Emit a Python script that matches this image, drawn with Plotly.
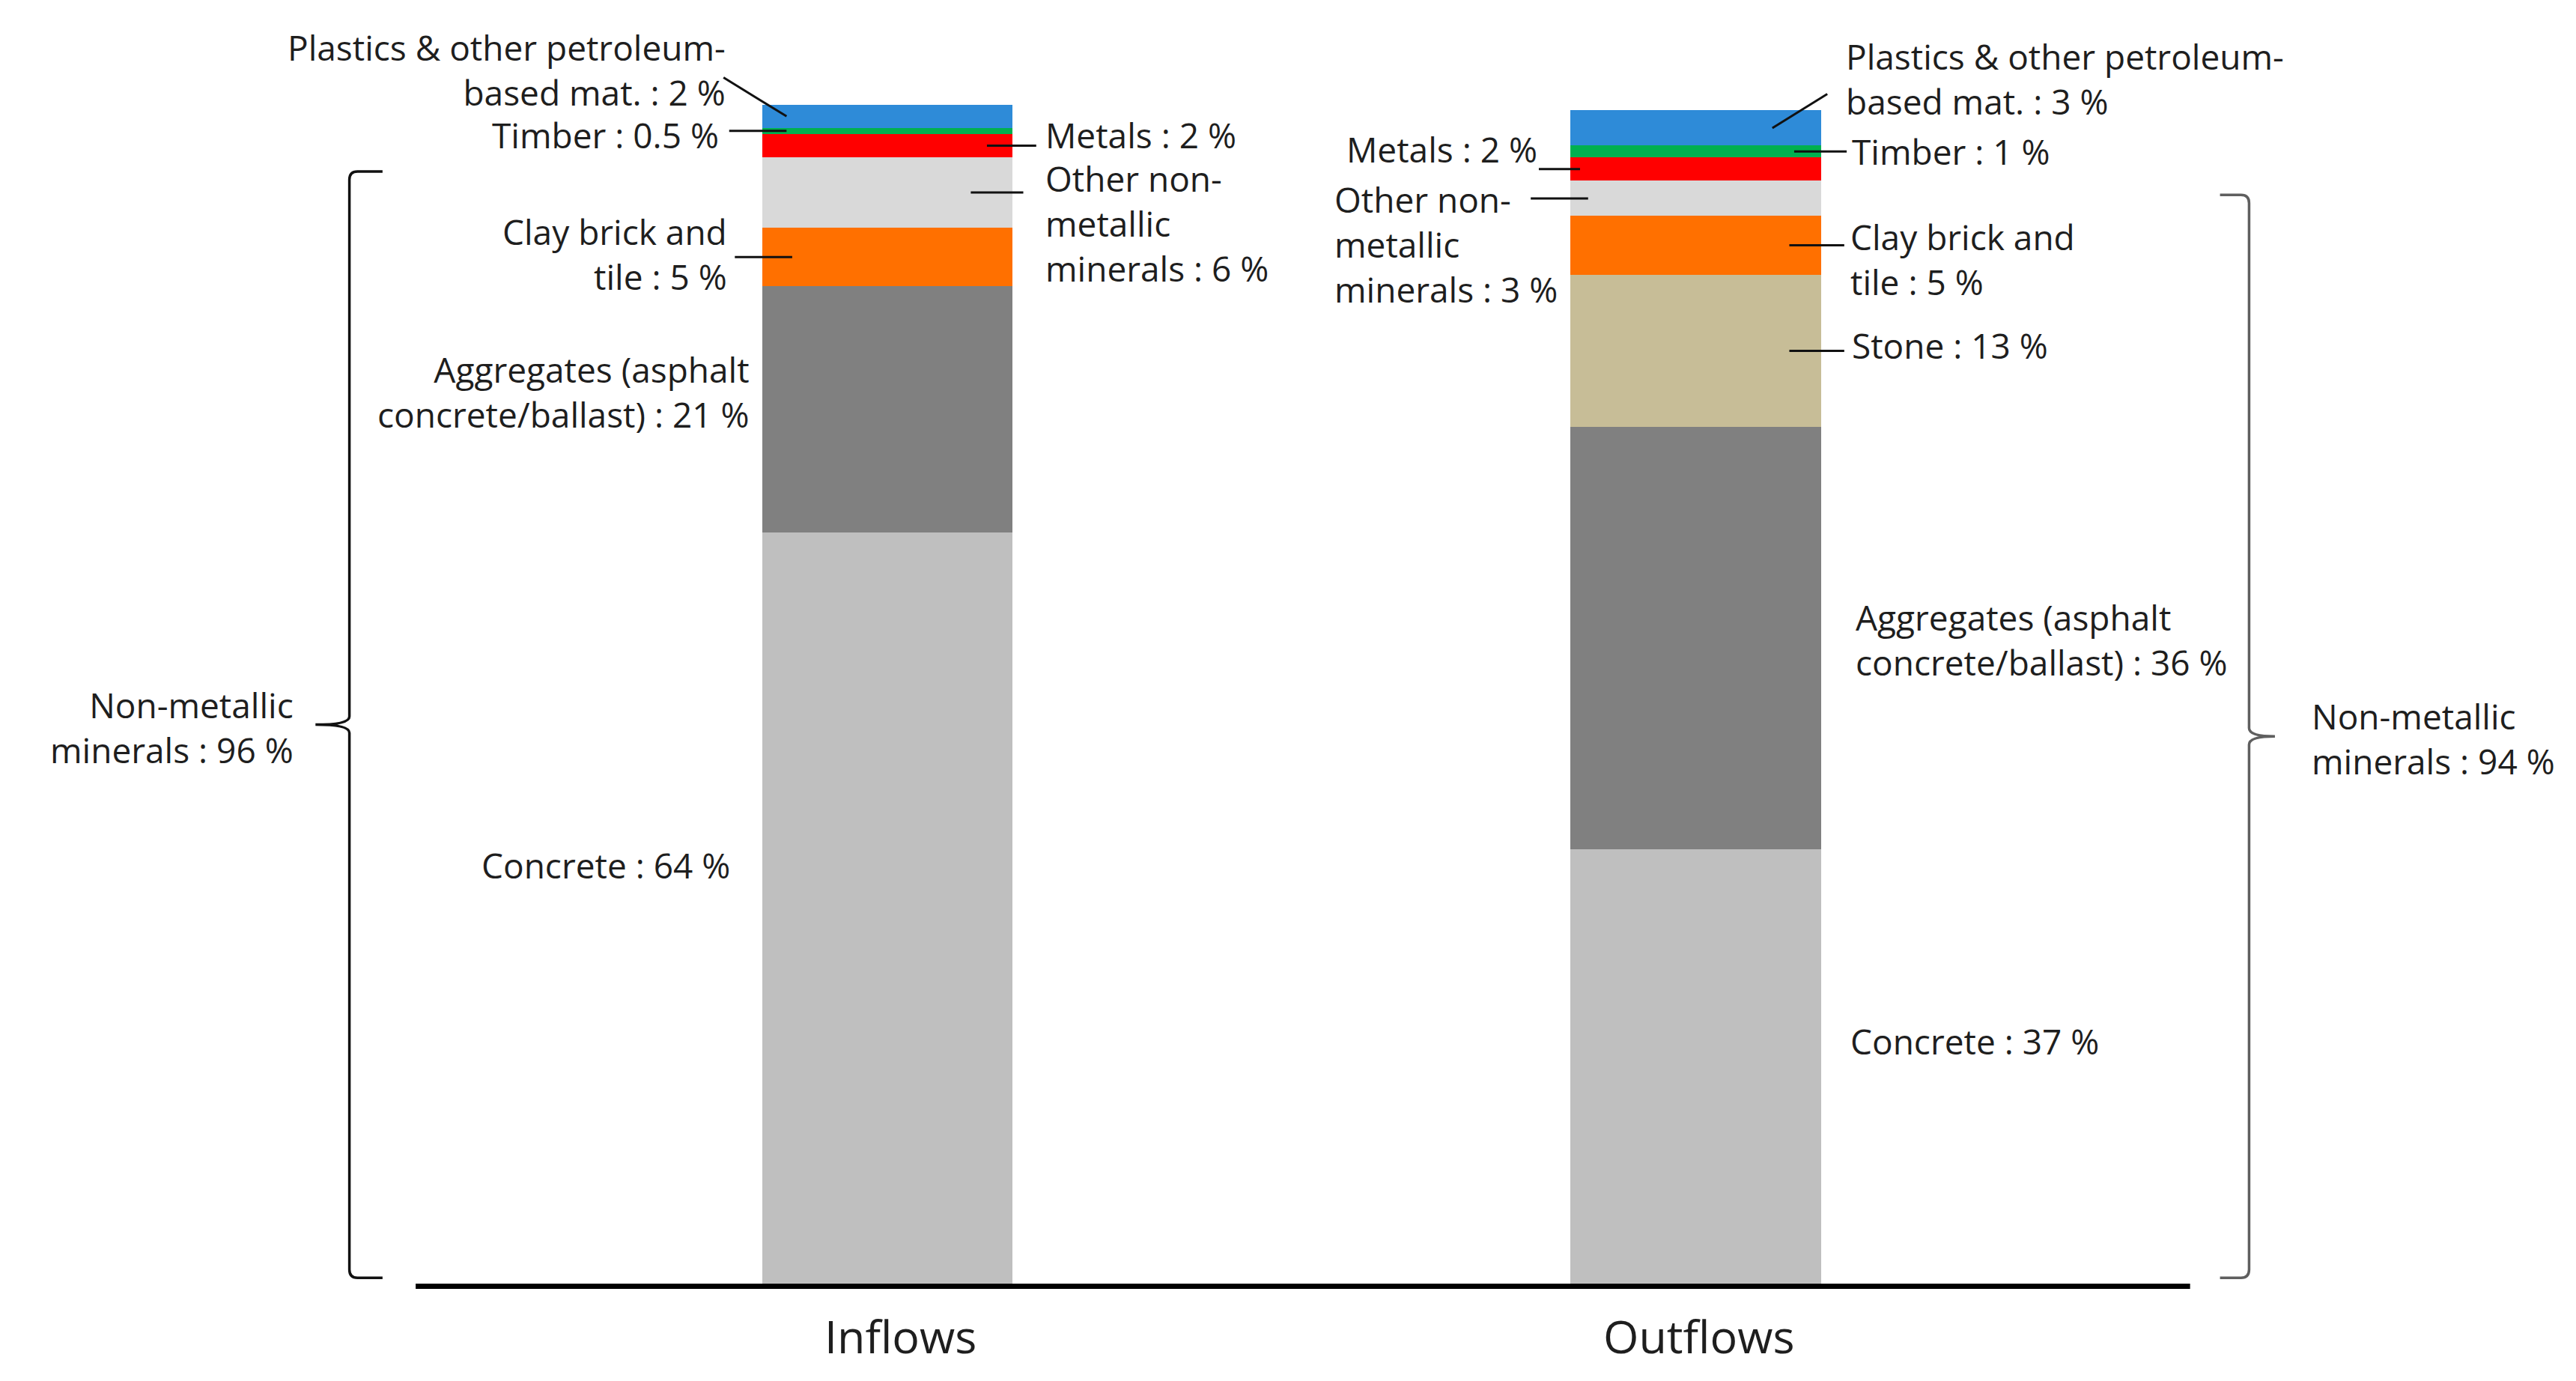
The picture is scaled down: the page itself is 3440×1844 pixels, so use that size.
import plotly.graph_objects as go

# ---- data ----
flows = ["Inflows", "Outflows"]
materials = ["Concrete", "Aggregates (asphalt|concrete/ballast)", "Stone", "Clay brick and|tile",
             "Other non-|metallic|minerals", "Metals", "Timber", "Plastics & other petroleum-|based mat."]
inflows = [64, 21, 0, 5, 6, 2, 0.5, 2]
outflows = [37, 36, 13, 5, 3, 2, 1, 3]
non_metallic = [0, 1, 2, 3, 4]          # indices of the non-metallic minerals group
colors = ["#BFBFBF", "#808080", "#C7BD97", "#FF7000", "#D9D9D9", "#FF0000", "#00B050", "#2E8BD8"]

# ---- layout: label placement, per (flow, material) ----
# x = text edge, y = centre of the text block, lead = (x at text, x in bar)
labels = {
    (0, 7): dict(x=-0.199, y=103.5, anchor="right", lead=(-0.203, -0.125), lead_y=102.8),
    (0, 6): dict(x=-0.207, y=97.9, anchor="right", lead=(-0.196, -0.125)),
    (0, 5): dict(x=0.193, y=97.9, anchor="left", lead=(0.184, 0.123)),
    (0, 4): dict(x=0.193, y=90.4, anchor="left", lead=(0.168, 0.103)),
    (0, 3): dict(x=-0.197, y=87.8, anchor="right", lead=(-0.189, -0.118)),
    (0, 1): dict(x=-0.169, y=76.0, anchor="right"),
    (0, 0): dict(x=-0.193, y=35.7, anchor="right"),
    (1, 7): dict(x=1.184, y=102.7, anchor="left", lead=(1.163, 1.095), lead_y=101.4),
    (1, 6): dict(x=1.192, y=96.5, anchor="left", lead=(1.187, 1.122)),
    (1, 5): dict(x=0.806, y=96.7, anchor="right", lead=(0.806, 0.857)),
    (1, 4): dict(x=0.551, y=88.6, anchor="left", lead=(0.796, 0.867)),
    (1, 3): dict(x=1.190, y=87.3, anchor="left", lead=(1.184, 1.116)),
    (1, 2): dict(x=1.192, y=80.0, anchor="left", lead=(1.184, 1.116)),
    (1, 1): dict(x=1.196, y=54.9, anchor="left"),
    (1, 0): dict(x=1.190, y=20.7, anchor="left"),
}
# brace: vertical x, tip x, hook x (relative to bar centre), label edge, colour
braces = [
    dict(xv=-0.666, tip=-0.708, hook=-0.625, lx=-0.733, anchor="right", color="#111111"),
    dict(xv=0.685, tip=0.717, hook=0.649, lx=0.761, anchor="left", color="#5f5f5f"),
]
cat_dx = [0.016, 0.004]

FONT = "Open Sans"
TXT = "#1e1e1e"
BAR_W = 0.31

fig = go.Figure()
for j, m in enumerate(materials):
    fig.add_trace(go.Bar(
        x=[0, 1], y=[inflows[j], outflows[j]], width=BAR_W,
        marker=dict(color=colors[j], line=dict(width=0)),
        name=m.replace("|", " "), hoverinfo="name+y",
    ))

annotations = []
shapes = []
series = [inflows, outflows]

for (i, j), p in labels.items():
    vals = series[i]
    lo = sum(vals[:j])
    mid = lo + vals[j] / 2
    val = vals[j]
    text = materials[j].replace("|", "<br>") + f" : {val:g} %"
    annotations.append(dict(
        x=p["x"], y=p["y"], xref="x", yref="y", text=text, showarrow=False,
        xanchor=p["anchor"], yanchor="middle", align=p["anchor"],
        font=dict(family=FONT, size=46, color=TXT),
    ))
    if "lead" in p:
        shapes.append(dict(
            type="line", xref="x", yref="y",
            x0=p["lead"][0], x1=p["lead"][1],
            y0=p.get("lead_y", mid), y1=mid,
            line=dict(color="#111111", width=3),
        ))

# braces around the non-metallic group
for i, b in enumerate(braces):
    vals = series[i]
    total = sum(vals[k] for k in non_metallic)
    y0, y1 = 0.5, total - 1.2
    ym = (y0 + y1) / 2
    xv, xt, xh = i + b["xv"], i + b["tip"], i + b["hook"]
    sgn = 1 if xh > xv else -1
    rx, ry = 0.01 * sgn, 0.7
    path = (f"M {xh},{y1} L {xv + rx},{y1} Q {xv},{y1} {xv},{y1 - ry} "
            f"L {xv},{ym + ry} Q {xv},{ym} {xt},{ym} Q {xv},{ym} {xv},{ym - ry} "
            f"L {xv},{y0 + ry} Q {xv},{y0} {xv + rx},{y0} L {xh},{y0}")
    shapes.append(dict(type="path", xref="x", yref="y", path=path,
                       line=dict(color=b["color"], width=3.5)))
    annotations.append(dict(
        x=i + b["lx"], y=ym - 0.2, xref="x", yref="y",
        text=f"Non-metallic<br>minerals : {total:g} %", showarrow=False,
        xanchor=b["anchor"], yanchor="middle", align=b["anchor"],
        font=dict(family=FONT, size=46, color=TXT),
    ))

# baseline and category names
shapes.append(dict(type="line", xref="x", yref="y", x0=-0.584, x1=1.612, y0=-0.22, y1=-0.22,
                   line=dict(color="#000000", width=7)))
for i, f in enumerate(flows):
    annotations.append(dict(
        x=i + cat_dx[i], y=-4.4, xref="x", yref="y", text=f, showarrow=False,
        xanchor="center", yanchor="middle",
        font=dict(family=FONT, size=61, color=TXT),
    ))

fig.update_layout(
    width=3440, height=1844,
    margin=dict(l=0, r=0, t=0, b=0),
    barmode="stack", bargap=0, showlegend=False,
    paper_bgcolor="white", plot_bgcolor="white",
    xaxis=dict(range=[-1.091, 2.097], visible=False, fixedrange=True),
    yaxis=dict(range=[-8.8, 108.9], visible=False, fixedrange=True),
    annotations=annotations, shapes=shapes,
)

fig.write_html("out.html")
